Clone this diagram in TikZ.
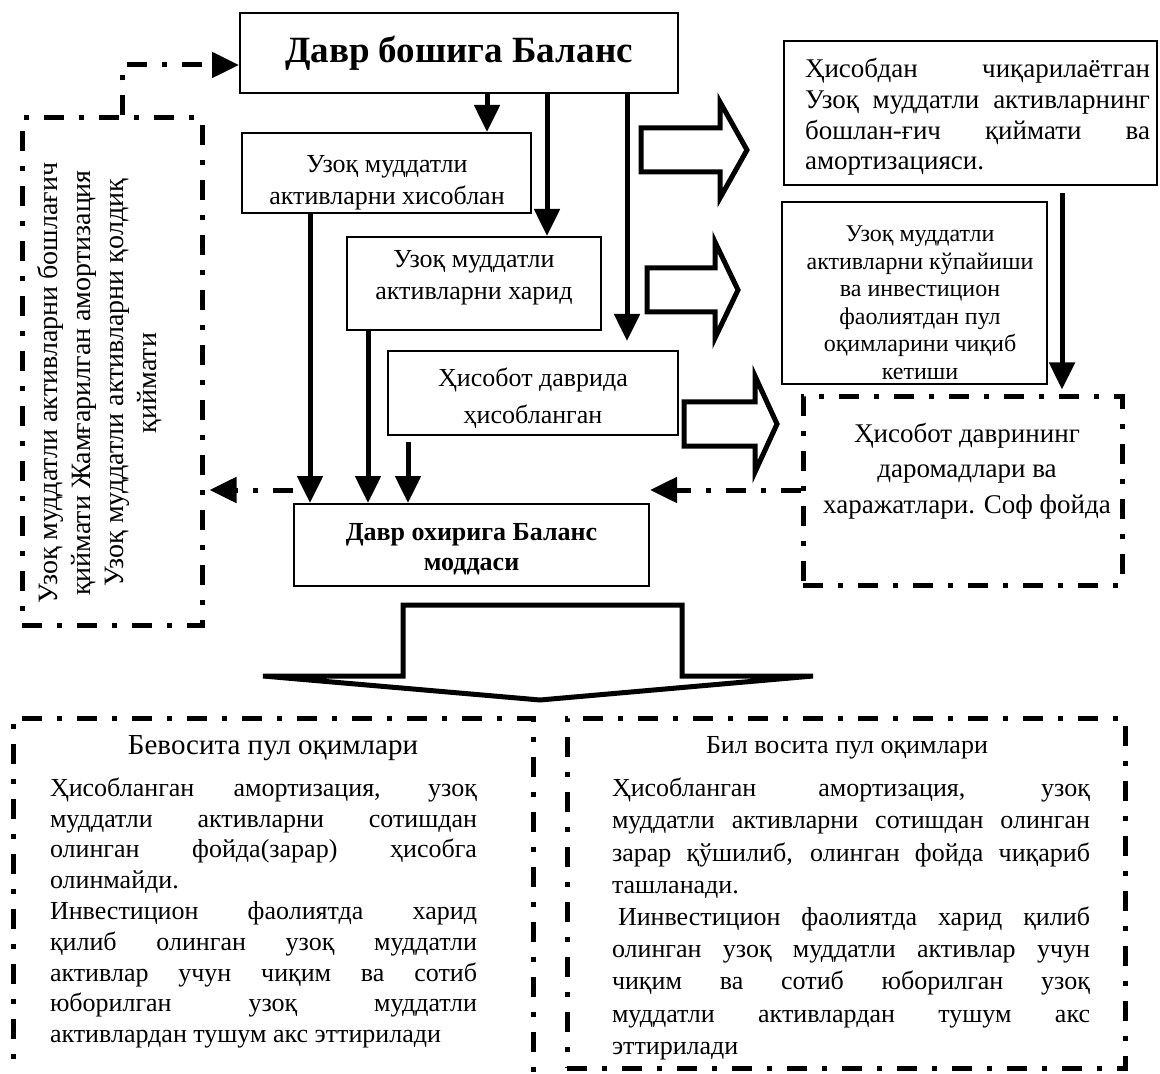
\documentclass[tikz,border=0pt]{standalone}
\usepackage{fontspec}
\setmainfont{Liberation Serif}
\usetikzlibrary{arrows.meta,positioning}

% one justified line of a text block
\newcommand{\jline}[1]{\makebox[\linewidth][s]{#1}\par}

\begin{document}
\begin{tikzpicture}[x=0.5pt, y=-0.5pt,
  box/.style={draw, line width=1pt, inner sep=0pt},
  dashdot/.style={line width=2.5pt, dash pattern=on 10pt off 7.5pt on 2.5pt off 7.5pt},
  ddbox/.style={draw, dashdot, inner sep=0pt},
  txt/.style={font=\fontsize{13}{16}\selectfont, align=center, inner sep=0pt},
  arrow/.style={-{Triangle[width=12.5pt,length=13.5pt]}, line width=2.5pt},
  ddarrow/.style={arrow, dashdot},
  blockarrow/.style={draw, line width=2.5pt, line join=miter, fill=white},
]
\useasboundingbox (0,0) rectangle (1160,1074);

% Balance at the start of the period.
\node[box, minimum width=219pt, minimum height=40pt, font=\fontsize{18.5}{20}\selectfont\bfseries] (start) at (459,53) {Давр бошига Баланс};

% Three middle boxes.
\node[box, minimum width=144.5pt, minimum height=40pt] (calc) at (386.5,173) {};
\node[txt] at (387,183) {Узоқ муддатли\\активларни хисоблан};
\node[box, minimum width=127pt, minimum height=46.5pt] (buy) at (474,283.5) {};
\node[txt] at (474,278) {Узоқ муддатли\\активларни харид};
\node[box, minimum width=145pt, minimum height=42pt] (accr) at (533,393) {};
\node[txt, font=\fontsize{13}{18.5}\selectfont] at (533,398) {Ҳисобот даврида\\ҳисобланган};

% Balance at the end of the period.
\node[box, minimum width=177.5pt, minimum height=41pt] (end) at (471.5,545) {};
\node[txt, font=\fontsize{13}{15}\selectfont\bfseries] at (471.5,549) {Давр охирига Баланс\\моддаси};

% Left dash-dotted box with turned text.
\node[ddbox, minimum width=90pt, minimum height=253.5pt] (left) at (112,371.5) {};
\node[txt, rotate=90, font=\fontsize{14}{16.5}\selectfont] at (100,383) {Узоқ муддатли активларни бошлағич\\қиймати Жамғарилган амортизация\\Узоқ муддатли активларни қолдиқ\\қиймати};

% Boxes at the right.
\node[box, minimum width=186.5pt, minimum height=72pt] (written) at (970.5,113) {};
\node[inner sep=0pt] at (977.5,117) {\parbox{172.5pt}{\fontsize{13.5}{15.3}\selectfont
  \jline{Ҳисобдан чиқарилаётган}
  \jline{Узоқ муддатли активларнинг}
  \jline{бошлан-ғич қиймати ва}
  амортизацияси.}};
\node[box, minimum width=132.5pt, minimum height=91pt] (growth) at (914.5,293) {};
\node[txt, font=\fontsize{12}{13.75}\selectfont] at (920,303) {Узоқ муддатли\\активларни кўпайиши\\ва инвестицион\\фаолиятдан пул\\оқимларини чиқиб\\кетиши};
\node[ddbox, minimum width=159.5pt, minimum height=94pt] (profit) at (962.5,491) {};
\node[txt, font=\fontsize{13.5}{17.75}\selectfont] at (967,471) {Ҳисобот даврининг\\даромадлари ва\\харажатлари. Соф фойда};

% Solid arrows.
\coordinate (c1) at (487,0);
\coordinate (c2) at (547,0);
\coordinate (c3) at (627,0);
\coordinate (c4) at (310,0);
\coordinate (c5) at (368,0);
\coordinate (c6) at (408,0);
\coordinate (c7) at (1062,0);
\coordinate (c8) at (122,0);
\draw[arrow] (start.south -| c1) -- (calc.north -| c1);
\draw[arrow] (start.south -| c2) -- (buy.north -| c2);
\draw[arrow, shorten >=4.5pt] (start.south -| c3) -- (accr.north -| c3);
\draw[arrow] (calc.south -| c4) -- (end.north -| c4);
\draw[arrow] (buy.south -| c5) -- (end.north -| c5);
\draw[arrow, shorten <=3pt] (accr.south -| c6) -- (end.north -| c6);
\draw[arrow, shorten <=3.5pt, shorten >=2.5pt] (written.south -| c7) -- (profit.north -| c7);

% Dash-dotted arrows.
\draw[ddarrow] (left.north -| c8) |- ([yshift=-6pt]start.west);
\coordinate (d1) at ([yshift=6.5pt]end.north west);
\coordinate (d2) at ([yshift=6.5pt]end.north east);
\draw[ddarrow, shorten >=2.5pt] (d1) -- (d1 -| left.east);
\draw[ddarrow] (d2 -| profit.west) -- (d2);

% Hollow block arrows.
\foreach \xa/\xb/\xt/\yc in {641/720/747/150, 647/715/738/290, 684/755/777/424}
  \draw[blockarrow] (\xa,\yc-22) -- (\xb,\yc-22) -- (\xb,\yc-48) -- (\xt,\yc) -- (\xb,\yc+48) -- (\xb,\yc+22) -- (\xa,\yc+22) -- cycle;
\draw[blockarrow] (403,605) -- (682,605) -- (682,676) -- (813,676) -- (540,700) -- (263,676) -- (403,676) -- cycle;

% Direct and indirect cash flows.
\node[ddbox, minimum width=260pt, minimum height=182pt] (direct) at (273,900) {};
\node[txt, font=\fontsize{14.5}{16}\selectfont] at (273,748) {Бевосита пул оқимлари};
\node[inner sep=0pt] at (263.5,913) {\parbox{213.5pt}{\fontsize{13}{15.4}\selectfont
  \jline{Ҳисобланган амортизация, узоқ}
  \jline{муддатли активларни сотишдан}
  \jline{олинган фойда(зарар) ҳисобга}
  олинмайди.\par
  \jline{Инвестицион фаолиятда харид}
  \jline{қилиб олинган узоқ муддатли}
  \jline{активлар учун чиқим ва сотиб}
  \jline{юборилган узоқ муддатли}
  активлардан тушум акс эттирилади}};

\node[ddbox, minimum width=279pt, minimum height=175pt] (indirect) at (846,893) {};
\node[txt] at (847,748) {Бил восита пул оқимлари};
\node[inner sep=0pt] at (851,919) {\parbox{239pt}{\fontsize{13}{16.1}\selectfont
  \jline{Ҳисобланган амортизация, узоқ}
  \jline{муддатли активларни сотишдан олинган}
  \jline{зарар қўшилиб, олинган фойда чиқариб}
  ташланади.\par
  \jline{\hspace{3pt}Иинвестицион фаолиятда харид қилиб}
  \jline{олинган узоқ муддатли активлар учун}
  \jline{чиқим ва сотиб юборилган узоқ}
  \jline{муддатли активлардан тушум акс}
  эттирилади}};

\end{tikzpicture}
\end{document}
